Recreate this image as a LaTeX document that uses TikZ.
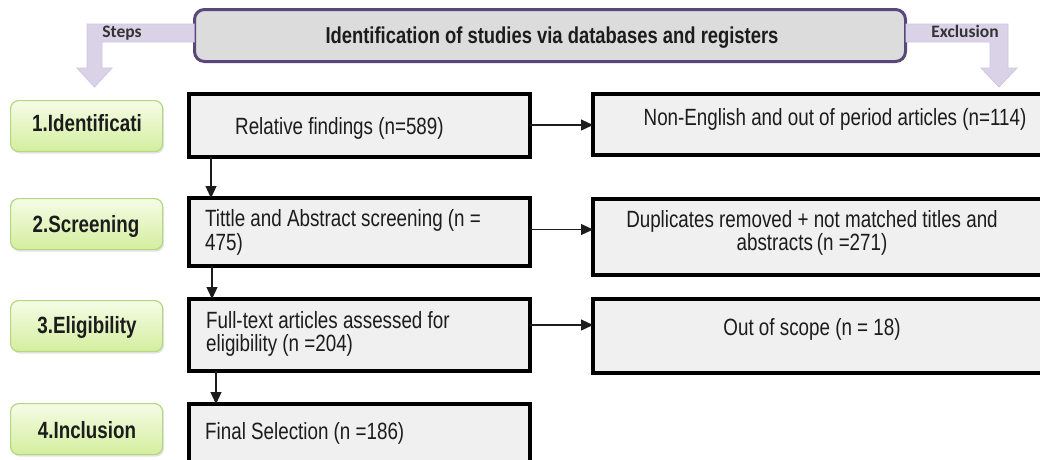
\documentclass[tikz,border=0pt]{standalone}
\usepackage{fontspec}
\setmainfont{Liberation Sans}[FakeStretch=0.8]
\newfontfamily\tagfont{Carlito}
\usetikzlibrary{shadows,arrows.meta,calc}

\definecolor{boxfill}{HTML}{F0F0F0}
\definecolor{hdrfill}{HTML}{DCDCDC}
\definecolor{hdrline}{HTML}{5A477A}
\definecolor{lav}{HTML}{DAD3E8}
\definecolor{lavline}{HTML}{CFC6E0}
\definecolor{greentop}{HTML}{F6FCE6}
\definecolor{greenbot}{HTML}{D3EE9E}
\definecolor{greenline}{HTML}{B5D782}
\definecolor{ink}{HTML}{1C1C1C}
\definecolor{taggray}{HTML}{333333}

\begin{document}
\begin{tikzpicture}[x=1pt,y=-1pt,
  stagebox/.style={draw=greenline, line width=1.2pt, rounded corners=8pt,
    top color=greentop, bottom color=greenbot, anchor=north west,
    minimum width=152pt, minimum height=51pt, inner sep=0pt, outer sep=0pt,
    drop shadow={shadow xshift=1.5pt, shadow yshift=-2pt, opacity=0.22, fill=gray}},
  stagetext/.style={anchor=base, inner sep=0pt, text=ink,
    font=\fontsize{23.5}{24}\selectfont\bfseries},
  flowbox/.style={draw=black, line width=4pt, fill=boxfill, anchor=north west,
    inner sep=0pt, outer sep=0pt},
  flowtext/.style={inner sep=0pt, text=ink, font=\fontsize{23.5}{23.5}\selectfont},
  flow/.style={draw=ink, line width=1.3pt, -{Triangle[length=12pt,width=11pt]}},
  bentarrow/.style={fill=lav, draw=lavline, line width=0.8pt},
  tagtext/.style={anchor=base, inner sep=0pt, text=taggray,
    font=\tagfont\fontsize{17.5}{19}\selectfont\bfseries}]

\useasboundingbox (0,0) rectangle (1040,459);
\clip (0,0) rectangle (1040,459);
\fill[white] (0,0) rectangle (1040,459);

% header banner
\node[draw=hdrline, line width=3pt, fill=hdrfill, rounded corners=10pt,
  anchor=north west, minimum width=711pt, minimum height=52pt,
  inner sep=0pt, outer sep=0pt] (hdr) at (194.5,9.5) {};
\node[anchor=base, inner sep=0pt, text=ink,
  font=\fontsize{23}{24}\selectfont\bfseries] (hdrtxt) at (552,43)
  {Identification of studies via databases and registers};

% bent arrows leading down to the two columns
\draw[bentarrow] (hdr.west |- 0,24) -- (87,24) -- (87,68) -- (77,68) -- (94.5,87)
  -- (112,68) -- (102,68) -- (102,42) -- (hdr.west |- 0,42);
\draw[bentarrow] (hdr.east |- 0,24) -- (1008,24) -- (1008,68) -- (1017,68) -- (999,87)
  -- (981,68) -- (990,68) -- (990,42) -- (hdr.east |- 0,42);
\node[tagtext] (steps) at (122,37.5) {Steps};
\node[tagtext] (excl) at (965,37.5) {Exclusion};

% stage labels
\node[stagebox] (s1) at (10.6,100.6) {};
\node[stagebox] (s2) at (10.6,198.6) {};
\node[stagebox] (s3) at (10.6,300.6) {};
\node[stagebox] (s4) at (10.6,403.6) {};
\node[stagetext] at (87,131) {1.Identificati};
\node[stagetext] at (86,232.5) {2.Screening};
\node[stagetext] at (87,333.5) {3.Eligibility};
\node[stagetext] at (87,438.5) {4.Inclusion};

% main flow boxes
\node[flowbox, minimum width=341pt, minimum height=63pt] (m1) at (189,94) {};
\node[flowbox, minimum width=341pt, minimum height=68pt] (m2) at (189,198) {};
\node[flowbox, minimum width=341pt, minimum height=72pt] (m3) at (189,299) {};
\node[flowbox, minimum width=341pt, minimum height=70pt] (m4) at (189,404) {};

% exclusion boxes
\node[flowbox, minimum width=470pt, minimum height=61pt] (r1) at (593,94) {};
\node[flowbox, minimum width=470pt, minimum height=76pt] (r2) at (593,199) {};
\node[flowbox, minimum width=470pt, minimum height=74pt] (r3) at (593,299) {};

% box texts
\node[flowtext, anchor=base west] at (235,134.5) {Relative findings (n=589)};
\node[flowtext, anchor=west, align=left] at (205,232.5)
  {Tittle and Abstract screening (n =\\475)};
\node[flowtext, anchor=west, align=left] at (206,334)
  {Full-text articles assessed for\\eligibility (n =204)};
\node[flowtext, anchor=base west] at (205,439) {Final Selection (n =186)};
\node[flowtext, anchor=base] at (835,125) {Non-English and out of period articles (n=114)};
\node[flowtext, align=center] at (812,233)
  {Duplicates removed + not matched titles and\\abstracts\,(n =271)};
\node[flowtext, anchor=base] at (812,335) {Out of scope (n = 18)};

% connectors
\draw[flow] ($(m1.south west)+(22,0)$) -- ($(m2.north west)+(22,0)$);
\draw[flow] ($(m2.south west)+(23,0)$) -- ($(m3.north west)+(23,0)$);
\draw[flow] ($(m3.south west)+(27,0)$) -- ($(m4.north west)+(27,0)$);
\draw[flow] (m1.east |- 0,125) -- (r1.west |- 0,125);
\draw[flow] (m2.east |- 0,229.5) -- (r2.west |- 0,229.5);
\draw[flow] (m3.east |- 0,325) -- (r3.west |- 0,325);
\end{tikzpicture}
\end{document}
